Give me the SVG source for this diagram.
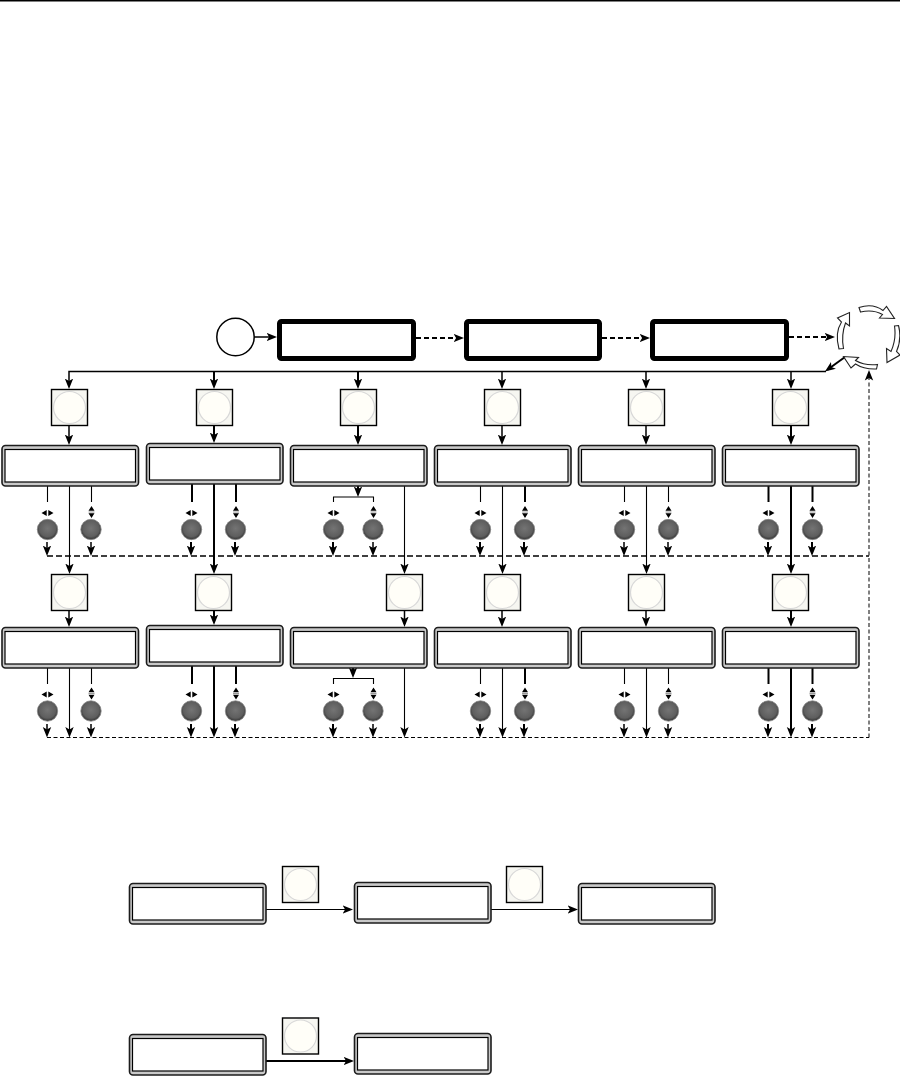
<svg xmlns="http://www.w3.org/2000/svg" width="900" height="1076" viewBox="0 0 900 1076">
<style>
.f{fill:none;stroke:#000}
.t{stroke-width:1.1}
.m{stroke-width:1.5}
.k{stroke-width:2}
.a{marker-end:url(#ah)}
.d1{stroke-width:2;stroke-dasharray:5 3}
.d2{stroke-width:1.7;stroke-dasharray:6 3}
.d3{stroke-width:1;stroke-dasharray:4 2.5}
.mode{fill:#fff;stroke:#000;stroke-width:5}
.ring{fill:#fff;stroke:#222;stroke-width:1.1}
</style>
<defs>
<marker id="ah" markerUnits="userSpaceOnUse" markerWidth="13" markerHeight="12" refX="7.5" refY="6" orient="auto">
<path d="M0 1.8L10.5 6L0 10.2L2.6 6Z" fill="#000"/>
</marker>
<radialGradient id="kg" cx="50%" cy="45%" r="55%">
<stop offset="0" stop-color="#747474"/><stop offset="0.72" stop-color="#5e5e5e"/><stop offset="1" stop-color="#333"/>
</radialGradient>
<g id="panel">
<rect x="0.5" y="0.5" width="136.5" height="40.5" rx="3.5" fill="#c9c9c9" stroke="#1c1c1c" stroke-width="1.6"/>
<rect x="3.5" y="4.5" width="130.5" height="32.5" fill="#fff" stroke="#000" stroke-width="1.2"/>
</g>
<g id="btn">
<rect x="0.5" y="0.5" width="36" height="36" fill="#f6f6f1" stroke="#000" stroke-width="1.4"/>
<circle cx="18.5" cy="18.5" r="16" fill="#fffef8" stroke="#d8d8d8" stroke-width="1.2"/>
</g>
<g id="knob">
<circle r="10.2" fill="url(#kg)" stroke="#888" stroke-width="0.8"/>
</g>
<g id="lr"><path d="M-0.8 -3V3L-6 0ZM0.8 -3V3L6 0Z" fill="#000"/></g>
<g id="ud"><path d="M-3 -1.2H3L0 -6ZM-3 1.2H3L0 6Z" fill="#000"/><path d="M-3 0H3" stroke="#999" stroke-width="1"/></g>
</defs>
<path d="M0 0.5H900" stroke="#000" stroke-width="2" fill="none"/>

<g id="connectors">
<path class="f m a" d="M254 337H274"/>
<path class="f d1 a" d="M416 338H461"/>
<path class="f d1 a" d="M602 338H647"/>
<path class="f d1 a" d="M789 337H832"/>
<path class="f k a" d="M845 357L827.4 369.8"/>
<path class="f m" d="M826 371.5H69V386" marker-end="url(#ah)"/>
<path class="f k a" d="M214 372V386"/><path class="f k a" d="M358 372V386"/><path class="f m a" d="M502 372V386"/><path class="f m a" d="M646 372V386"/><path class="f m a" d="M791 372V386"/>
<path class="f m a" d="M69 425V442"/><path class="f k a" d="M214 425V440"/><path class="f k a" d="M358 425V442"/><path class="f m a" d="M502 425V442"/><path class="f m a" d="M646 425V442"/><path class="f k a" d="M791 425V442"/>

<path class="f d2" d="M47 556H869"/>
<path class="f d3" d="M47 737.5H869"/>
<path class="f d3 a" d="M869 737.5V373"/>

<path class="f t" d="M47.5 485V502"/><path class="f t" d="M91.5 485V502"/><path class="f t a" d="M69.5 485V571"/>
<path class="f k" d="M192 484V502"/><path class="f k" d="M236 484V502"/><path class="f k a" d="M214 484V571"/>
<path class="f k a" d="M358 486V494"/><path class="f t" d="M333.5 502V497H373.5V502"/><path class="f t a" d="M404.5 486V571"/>
<path class="f t" d="M480.5 486V502"/><path class="f k" d="M525 486V502"/><path class="f t a" d="M502.5 486V571"/>
<path class="f t" d="M624.5 486V502"/><path class="f t" d="M668.5 486V502"/><path class="f t a" d="M646.5 486V571"/>
<path class="f k" d="M768.5 486V502"/><path class="f k" d="M812.5 486V502"/><path class="f k a" d="M791 486V571"/>

<path class="f m a" d="M47 542V553"/><path class="f m a" d="M91 542V553"/>
<path class="f k a" d="M191 542V553"/><path class="f k a" d="M235 542V553"/>
<path class="f k a" d="M333 542V553"/><path class="f m a" d="M373 542V553"/>
<path class="f k a" d="M480 542V553"/><path class="f k a" d="M524 542V553"/>
<path class="f m a" d="M624 542V553"/><path class="f m a" d="M668 542V553"/>
<path class="f k a" d="M768 542V553"/><path class="f k a" d="M812 542V553"/>

<path class="f m a" d="M69 610V624"/><path class="f k a" d="M214 610V622"/><path class="f m a" d="M404.5 610V624"/><path class="f m a" d="M502 610V624"/><path class="f m a" d="M646 610V624"/><path class="f k a" d="M791 610V624"/>

<path class="f t" d="M47.5 667V684"/><path class="f t" d="M91.5 667V684"/><path class="f t a" d="M69.5 667V734.5"/>
<path class="f k" d="M192 666V684"/><path class="f k" d="M236 666V684"/><path class="f k a" d="M214 666V734.5"/>
<path class="f k a" d="M353 668V675"/><path class="f t" d="M333.5 684V678.5H373.5V684"/><path class="f t a" d="M404.5 667V734.5"/>
<path class="f t" d="M480.5 667V684"/><path class="f k" d="M525 667V684"/><path class="f t a" d="M502.5 667V734.5"/>
<path class="f t" d="M624.5 667V684"/><path class="f t" d="M668.5 667V684"/><path class="f t a" d="M646.5 667V734.5"/>
<path class="f k" d="M768.5 667V684"/><path class="f k" d="M812.5 667V684"/><path class="f k a" d="M791 667V734.5"/>

<path class="f m a" d="M47 724V734.5"/><path class="f m a" d="M91 724V734.5"/>
<path class="f k a" d="M191 724V734.5"/><path class="f k a" d="M235 724V734.5"/>
<path class="f k a" d="M333 724V734.5"/><path class="f m a" d="M373 724V734.5"/>
<path class="f k a" d="M480 724V734.5"/><path class="f k a" d="M524 724V734.5"/>
<path class="f m a" d="M624 724V734.5"/><path class="f m a" d="M668 724V734.5"/>
<path class="f k a" d="M768 724V734.5"/><path class="f k a" d="M812 724V734.5"/>

<path class="f t a" d="M266 909.5H350"/>
<path class="f t a" d="M491 909.5H575"/>
<path class="f k a" d="M266 1061H351"/>
</g>

<g id="start"><circle cx="235.5" cy="337" r="18.7" fill="#fff" stroke="#000" stroke-width="1.5"/></g>
<g id="mode1"><rect class="mode" x="279.5" y="321.5" width="134" height="37" rx="2"/></g>
<g id="mode2"><rect class="mode" x="466.5" y="321.5" width="133" height="37" rx="2"/></g>
<g id="mode3"><rect class="mode" x="652.5" y="321.5" width="134" height="37" rx="2"/></g>

<g id="cycle">
<path class="ring" d="M859 307.5Q873 303 883 310.5L886.5 306.5L894.5 318.5L879.5 318L882.5 314.5Q873 309 860.5 312Z"/>
<path class="ring" d="M894.5 326L898.5 325.5Q902 339 896.5 351.5L900 355L887 362.5L886.5 348.5L891 351.5Q896.5 339 894.5 326Z"/>
<path class="ring" d="M877.5 364.5L876.5 369Q864 369.5 855.5 364L851 368L843.5 356.5L858.5 357.5L855.5 360.5Q865 366 877.5 364.5Z"/>
<path class="ring" d="M843.5 348.5L839 349Q834.5 333 841.5 322L837.5 318L849.5 312.5L849.5 326L845.5 323Q841 335 843.5 348.5Z"/>
</g>

<g id="btn-r1c1"><use href="#btn" x="51" y="389"/></g>
<g id="btn-r1c2"><use href="#btn" x="196" y="389"/></g>
<g id="btn-r1c3"><use href="#btn" x="340" y="389"/></g>
<g id="btn-r1c4"><use href="#btn" x="484" y="389"/></g>
<g id="btn-r1c5"><use href="#btn" x="628" y="389"/></g>
<g id="btn-r1c6"><use href="#btn" x="772" y="389"/></g>
<g id="btn-r2c1"><use href="#btn" x="51" y="574"/></g>
<g id="btn-r2c2"><use href="#btn" x="195" y="574"/></g>
<g id="btn-r2c3"><use href="#btn" x="386" y="574"/></g>
<g id="btn-r2c4"><use href="#btn" x="484" y="574"/></g>
<g id="btn-r2c5"><use href="#btn" x="628" y="574"/></g>
<g id="btn-r2c6"><use href="#btn" x="772" y="574"/></g>

<g id="panel-r1c1"><use href="#panel" x="1.5" y="445"/></g>
<g id="panel-r1c2"><use href="#panel" x="146" y="443"/></g>
<g id="panel-r1c3"><use href="#panel" x="290" y="445"/></g>
<g id="panel-r1c4"><use href="#panel" x="434" y="445"/></g>
<g id="panel-r1c5"><use href="#panel" x="578" y="445"/></g>
<g id="panel-r1c6"><use href="#panel" x="722" y="445"/></g>
<g id="panel-r2c1"><use href="#panel" x="1.5" y="627"/></g>
<g id="panel-r2c2"><use href="#panel" x="146" y="625"/></g>
<g id="panel-r2c3"><use href="#panel" x="290" y="627"/></g>
<g id="panel-r2c4"><use href="#panel" x="434" y="627"/></g>
<g id="panel-r2c5"><use href="#panel" x="578" y="627"/></g>
<g id="panel-r2c6"><use href="#panel" x="722" y="627"/></g>

<g id="knobs-r1c1"><use href="#lr" x="47.5" y="513"/><use href="#ud" x="91.5" y="512"/><use href="#knob" x="47.5" y="529.5"/><use href="#knob" x="91" y="529.5"/></g>
<g id="knobs-r1c2"><use href="#lr" x="191.5" y="513"/><use href="#ud" x="236" y="512"/><use href="#knob" x="191.5" y="529.5"/><use href="#knob" x="235.5" y="529.5"/></g>
<g id="knobs-r1c3"><use href="#lr" x="333.5" y="513"/><use href="#ud" x="373.5" y="512"/><use href="#knob" x="333.5" y="529.5"/><use href="#knob" x="373" y="529.5"/></g>
<g id="knobs-r1c4"><use href="#lr" x="480.5" y="513"/><use href="#ud" x="525" y="512"/><use href="#knob" x="480.5" y="529.5"/><use href="#knob" x="524.5" y="529.5"/></g>
<g id="knobs-r1c5"><use href="#lr" x="624.5" y="513"/><use href="#ud" x="668.5" y="512"/><use href="#knob" x="624.5" y="529.5"/><use href="#knob" x="668.5" y="529.5"/></g>
<g id="knobs-r1c6"><use href="#lr" x="768.5" y="513"/><use href="#ud" x="812.5" y="512"/><use href="#knob" x="768.5" y="529.5"/><use href="#knob" x="812.5" y="529.5"/></g>
<g id="knobs-r2c1"><use href="#lr" x="47.5" y="694.5"/><use href="#ud" x="91.5" y="693.5"/><use href="#knob" x="47.5" y="711"/><use href="#knob" x="91" y="711"/></g>
<g id="knobs-r2c2"><use href="#lr" x="191.5" y="694.5"/><use href="#ud" x="236" y="693.5"/><use href="#knob" x="191.5" y="711"/><use href="#knob" x="235.5" y="711"/></g>
<g id="knobs-r2c3"><use href="#lr" x="333.5" y="694.5"/><use href="#ud" x="373.5" y="693.5"/><use href="#knob" x="333.5" y="711"/><use href="#knob" x="373" y="711"/></g>
<g id="knobs-r2c4"><use href="#lr" x="480.5" y="694.5"/><use href="#ud" x="525" y="693.5"/><use href="#knob" x="480.5" y="711"/><use href="#knob" x="524.5" y="711"/></g>
<g id="knobs-r2c5"><use href="#lr" x="624.5" y="694.5"/><use href="#ud" x="668.5" y="693.5"/><use href="#knob" x="624.5" y="711"/><use href="#knob" x="668.5" y="711"/></g>
<g id="knobs-r2c6"><use href="#lr" x="768.5" y="694.5"/><use href="#ud" x="812.5" y="693.5"/><use href="#knob" x="768.5" y="711"/><use href="#knob" x="812.5" y="711"/></g>

<g id="panel-b1"><use href="#panel" x="129" y="883"/></g>
<g id="panel-b2"><use href="#panel" x="354" y="882"/></g>
<g id="panel-b3"><use href="#panel" x="578" y="883"/></g>
<g id="btn-b1"><use href="#btn" x="282" y="866"/></g>
<g id="btn-b2"><use href="#btn" x="506" y="866"/></g>
<g id="panel-c1"><use href="#panel" x="129" y="1034"/></g>
<g id="panel-c2"><use href="#panel" x="354" y="1033"/></g>
<g id="btn-c1"><use href="#btn" x="282" y="1017.5"/></g>
</svg>
